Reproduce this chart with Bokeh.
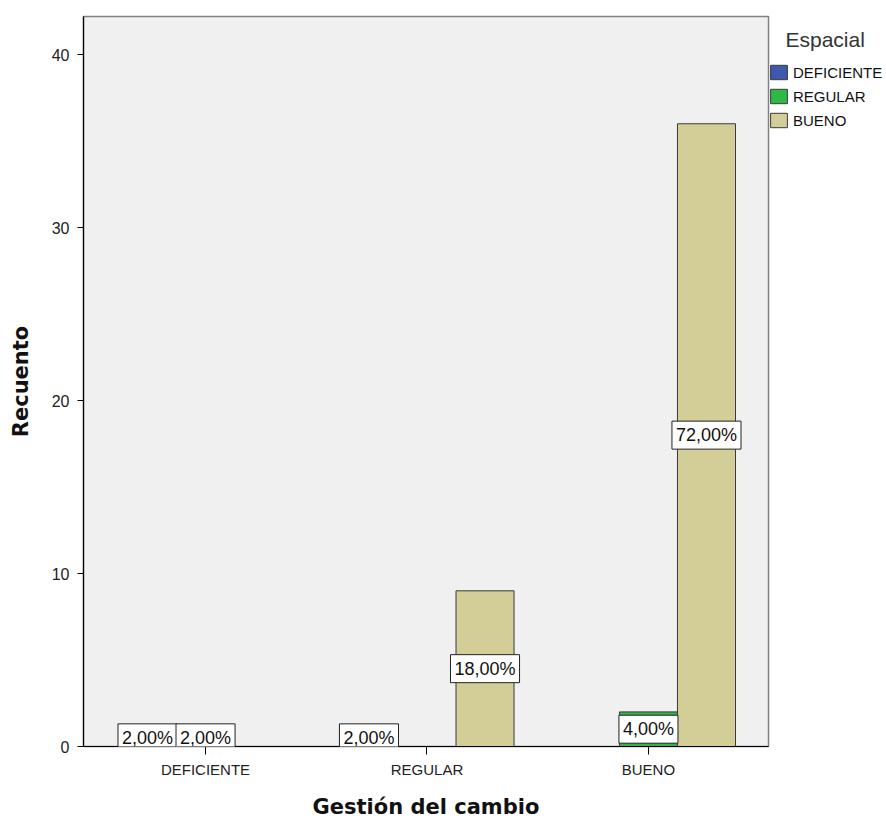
from bokeh.plotting import figure
from bokeh.models import Range1d, FixedTicker, Legend, LegendItem, ColumnDataSource, Label
from bokeh.transform import dodge
from bokeh.embed import file_html
from bokeh.resources import INLINE

# ---- data ----
groups = ["DEFICIENTE", "REGULAR", "BUENO"]          # Gestión del cambio
series = ["DEFICIENTE", "REGULAR", "BUENO"]          # Espacial
esp_deficiente = [1, 1, 0]
esp_regular = [1, 0, 2]
esp_bueno = [0, 9, 36]
y_ticks = [0, 10, 20, 30, 40]
legend_title = "Espacial"

colors = ["#3E58AC", "#2EB848", "#D3CE97"]
values_by_series = [esp_deficiente, esp_regular, esp_bueno]
total = sum(sum(v) for v in values_by_series)

BAR_W = 0.262
offsets = [-BAR_W, 0.0, BAR_W]

p = figure(frame_width=685, frame_height=730,
           x_range=Range1d(-0.551, 2.542), y_range=Range1d(0, 42.2),
           output_backend="svg", toolbar_location=None,
           min_border_left=83, min_border_top=16, min_border_bottom=72,
           min_border_right=0, background_fill_color="#F0F0F0",
           border_fill_color="white")

p.outline_line_color = "#808080"
p.outline_line_width = 1.5
p.xgrid.visible = False
p.ygrid.visible = False

renderers = []
for si, (name, vals, col, off) in enumerate(zip(series, values_by_series, colors, offsets)):
    gx = [i for i, v in enumerate(vals) if v > 0]
    top = [v for v in vals if v > 0]
    src = ColumnDataSource(dict(gx=gx, top=top))
    r = p.vbar(x=dodge("gx", off, range=p.x_range), top="top", width=BAR_W,
               source=src, fill_color=col, line_color="#3a3a3a", line_width=1)
    renderers.append((name, r))
    for g, t in zip(gx, top):
        txt = ("%.2f%%" % (t / total * 100)).replace(".", ",")
        p.add_layout(Label(x=g + off, y=t / 2, text=txt, text_align="center",
                           text_baseline="middle", text_font="Liberation Sans",
                           text_font_size="18px", text_color="#111111",
                           background_fill_color="white", border_line_color="#222222",
                           border_line_width=1, padding=4))

# axes
p.xaxis.ticker = FixedTicker(ticks=[0, 1, 2])
p.xaxis.major_label_overrides = {0: groups[0], 1: groups[1], 2: groups[2]}
p.yaxis.ticker = FixedTicker(ticks=y_ticks)
for ax in (p.xaxis[0], p.yaxis[0]):
    ax.axis_line_color = "black"
    ax.axis_line_width = 1.2
    ax.major_tick_line_color = "black"
    ax.major_tick_in = 0
    ax.minor_tick_line_color = None
    ax.major_label_text_font = "Liberation Sans"
    ax.major_label_text_color = "#222222"
    ax.axis_label_text_font = "DejaVu Sans"
    ax.axis_label_text_font_style = "bold"
    ax.axis_label_text_font_size = "21px"
    ax.axis_label_text_color = "#111111"
p.xaxis.major_tick_out = 8
p.yaxis.major_tick_out = 6
p.xaxis.major_label_text_font_size = "15px"
p.yaxis.major_label_text_font_size = "16px"
p.xaxis.major_label_standoff = 6
p.yaxis.major_label_standoff = 8
p.xaxis.axis_label = "Gestión del cambio"
p.yaxis.axis_label = "Recuento"
p.xaxis.axis_label_standoff = 14
p.yaxis.axis_label_standoff = 16

legend = Legend(items=[LegendItem(label=n, renderers=[r]) for n, r in renderers],
                title="\u00a0\u00a0\u00a0" + legend_title, location=(0, 617))
legend.title_text_font = "Liberation Sans"
legend.title_text_font_size = "21px"
legend.title_text_font_style = "normal"
legend.title_text_color = "#333333"
legend.title_standoff = 11
legend.label_text_font = "Liberation Sans"
legend.label_text_font_size = "15px"
legend.label_text_color = "#111111"
legend.label_standoff = 4
legend.glyph_width = 21
legend.glyph_height = 18
legend.label_height = 18
legend.spacing = 6
legend.margin = 0
legend.padding = 2
legend.border_line_color = None
legend.background_fill_alpha = 0
p.add_layout(legend, "right")

open("out.html", "w").write(file_html(p, INLINE))
